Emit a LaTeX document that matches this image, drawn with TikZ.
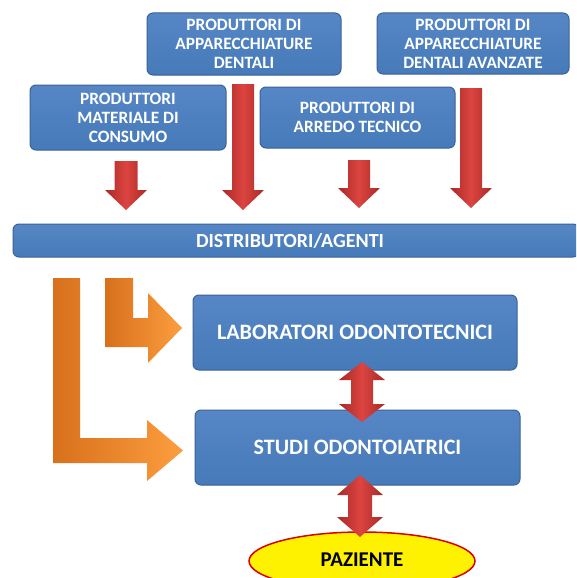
\documentclass[tikz,border=0pt]{standalone}
\usepackage{fontspec}
\setmainfont{Carlito}
\usetikzlibrary{shapes.geometric}
\definecolor{boxtop}{HTML}{5686C6}
\definecolor{boxbot}{HTML}{467AB8}
\definecolor{boxedge}{HTML}{3A6396}
\definecolor{rdark}{HTML}{A82A27}
\definecolor{rlight}{HTML}{DC4440}
\definecolor{odark}{HTML}{D8701C}
\definecolor{olight}{HTML}{FC9E3E}
\newcommand\dnarrow[6]{%
 \shade[left color=rdark, right color=rdark, middle color=rlight]
 (#1-#4,#2) -- (#1+#4,#2) -- (#1+#4,#3-#6) -- (#1+#5,#3-#6) -- (#1,#3)
 -- (#1-#5,#3-#6) -- (#1-#4,#3-#6) -- cycle;}
\newcommand\dblarrow[6]{%
 \shade[left color=rdark, right color=rdark, middle color=rlight]
 (#1,#2) -- (#1+#5,#2+#6) -- (#1+#4,#2+#6) -- (#1+#4,#3-#6) -- (#1+#5,#3-#6) -- (#1,#3)
 -- (#1-#5,#3-#6) -- (#1-#4,#3-#6) -- (#1-#4,#2+#6) -- (#1-#5,#2+#6) -- cycle;}
\begin{document}
\begin{tikzpicture}[x=1pt,y=-1pt,
 box/.style={draw=boxedge, line width=1pt, rounded corners=6pt, top color=boxtop, bottom color=boxbot,
   text=white, align=center, inner sep=0pt},
 small/.style={font=\bfseries\fontsize{17.3}{19}\selectfont},
 big/.style={font=\bfseries\fontsize{22}{24}\selectfont}]
\clip (0,0) rectangle (576,578);
\useasboundingbox (0,0) rectangle (576,578);
\fill[white] (0,0) rectangle (576,578);
% producer boxes
\node[box, small, minimum width=194pt, minimum height=62pt] (b1) at (244,44) {PRODUTTORI DI\\APPARECCHIATURE\\DENTALI};
\node[box, small, minimum width=192pt, minimum height=61pt] (b2) at (473,43.5) {PRODUTTORI DI\\APPARECCHIATURE\\DENTALI AVANZATE};
\node[box, small, minimum width=196pt, minimum height=65pt] (b3) at (128,117.5) {PRODUTTORI\\MATERIALE DI\\CONSUMO};
\node[box, small, minimum width=195pt, minimum height=61pt] (b4) at (357.5,117.5) {PRODUTTORI DI\\ARREDO TECNICO};
% distributors
\node[box, font=\bfseries\fontsize{20}{22}\selectfont, minimum width=566pt, minimum height=33pt] (dist) at (296,240.5) {\hspace*{-12pt}DISTRIBUTORI/AGENTI};
% red down arrows
\dnarrow{126}{161}{210}{11.5}{21}{20}
\dnarrow{243}{84}{210}{11}{21}{20}
\dnarrow{359}{160}{208}{11}{21}{20}
\dnarrow{471}{88}{208}{11}{21}{20}
% lower boxes
\node[box, big, minimum width=324pt, minimum height=75pt] (lab) at (355,332.5) {LABORATORI ODONTOTECNICI};
\node[box, big, minimum width=325pt, minimum height=75pt] (stud) at (357.5,447.5) {STUDI ODONTOIATRICI};
\node[ellipse, draw=red!85!black, line width=1.5pt, fill=yellow, minimum width=226pt, minimum height=58pt,
  inner sep=0pt] (paz) at (362,561) {};
\node[font=\bfseries\fontsize{21}{24}\selectfont] at (362,560) {PAZIENTE};
% orange arrows
\shade[left color=odark, right color=olight]
 (53,278) -- (80,278) -- (80,438) -- (147,438) -- (147,420) -- (183,450.5) -- (147,481) -- (147,463) -- (53,463) -- cycle;
\shade[left color=odark, right color=olight]
 (105,278) -- (133,278) -- (133,318) -- (148,318) -- (148,293) -- (182,328) -- (148,363) -- (148,347) -- (105,347) -- cycle;
% double arrows
\dblarrow{362}{362}{422}{11}{23}{18}
\dblarrow{360}{475}{537}{12}{23}{20}
\end{tikzpicture}
\end{document}
